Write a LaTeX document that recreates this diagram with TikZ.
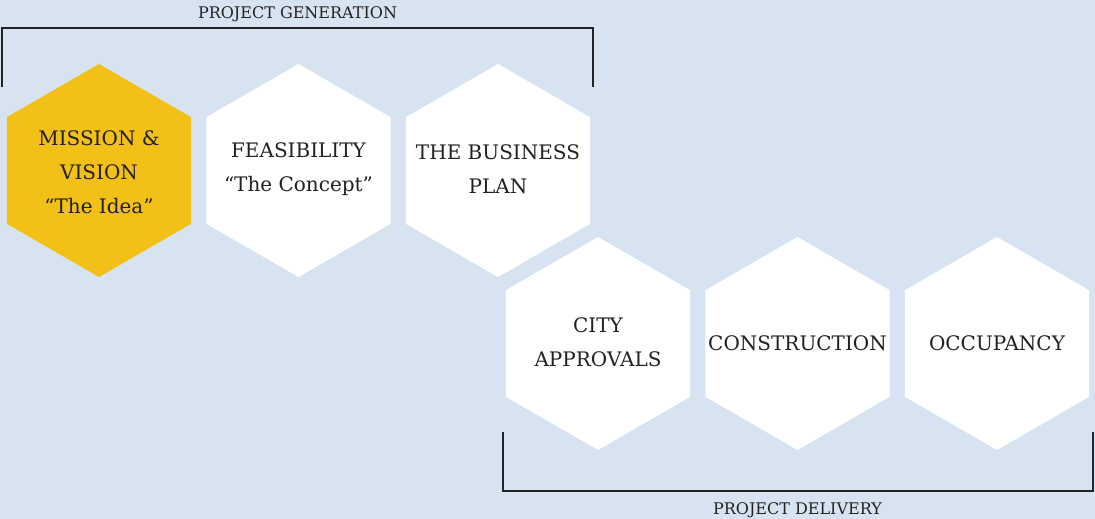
\documentclass[tikz,border=0pt]{standalone}
\usepackage{fontspec}
\setmainfont{DejaVu Serif}
\usetikzlibrary{shapes.geometric}
\definecolor{bg}{HTML}{D7E3F1}
\definecolor{gold}{HTML}{F2C016}
\definecolor{ink}{HTML}{222222}
\begin{document}
\begin{tikzpicture}[x=1pt,y=-1pt,
  hexa/.style={regular polygon, regular polygon sides=6, shape border rotate=30,
    minimum size=213pt, inner sep=0pt, fill=white},
  hextext/.style={text=ink, font=\fontsize{20}{34}\selectfont, align=center, inner sep=0pt},
  lbl/.style={text=ink, font=\fontsize{16}{19}\selectfont, anchor=base, inner sep=0pt},
  brk/.style={draw=ink, line width=2pt}]
\fill[bg] (0,0) rectangle (1095,519);
\node[hexa, fill=gold] (mission) at (99,170.5) {};
\node[hexa] (feas) at (298.5,170.5) {};
\node[hexa] (plan) at (498,170.5) {};
\node[hexa] (city) at (598,343.5) {};
\node[hexa] (cons) at (797.5,343.5) {};
\node[hexa] (occ) at (997,343.5) {};
\node[hextext] (missionT) at ([yshift=-2pt]mission.center) {MISSION \&\\VISION\\“The Idea”};
\node[hextext] (feasT) at ([yshift=1pt]feas.center) {FEASIBILITY\\“The Concept”};
\node[hextext] (planT) at ([yshift=1pt]plan.center) {THE BUSINESS\\PLAN};
\node[hextext] (cityT) at ([yshift=1pt]city.center) {CITY\\APPROVALS};
\node[hextext] (consT) at (cons) {CONSTRUCTION};
\node[hextext] (occT) at (occ) {OCCUPANCY};
\coordinate (g1) at (2,87);
\coordinate (g3) at (593,28.5);
\coordinate (g4) at (593,87);
\draw[brk] (g1) |- (g3) -- (g4);
\coordinate (d1) at (502.5,432);
\coordinate (d3) at (1092.5,490.7);
\coordinate (d4) at (1092.5,432);
\draw[brk] (d1) |- (d3) -- (d4);
\node[lbl] (gen) at (297.5,19) {PROJECT GENERATION};
\node[lbl] (del) at (797.5,514) {PROJECT DELIVERY};
\end{tikzpicture}
\end{document}
